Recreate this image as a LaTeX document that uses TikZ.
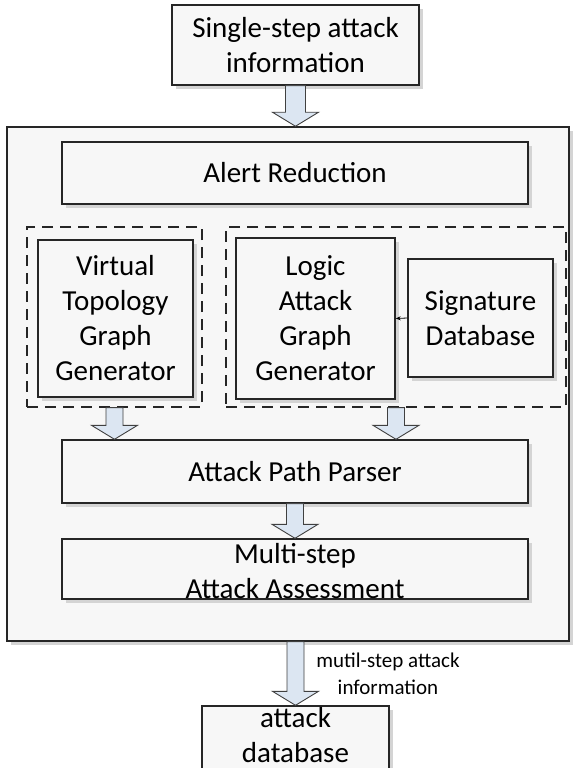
\documentclass[tikz,border=0pt]{standalone}
\usepackage{fontspec}
\setmainfont{Carlito}
\usetikzlibrary{shadows,calc,arrows.meta}
\definecolor{boxfill}{HTML}{F7F7F7}
\definecolor{arrfill}{HTML}{DCE6F2}
\definecolor{shadowc}{HTML}{D4D4D4}
\tikzset{
  box/.style={draw=black!85, line width=1.4pt, fill=boxfill, inner sep=0pt, align=center,
    font=\fontsize{29}{35}\selectfont,
    drop shadow={shadow xshift=4pt, shadow yshift=-4pt, fill=shadowc, opacity=1}},
  dbox/.style={draw=black!85, line width=1.3pt, dash pattern=on 11pt off 7pt, inner sep=0pt},
  txt/.style={inner sep=0pt, align=center, font=\fontsize{29}{35}\selectfont},
  lbl/.style={inner sep=0pt, align=center, font=\fontsize{21}{27}\selectfont},
  arrowst/.style={fill=arrfill, draw=black!75, line width=0.9pt, line join=miter},
}
\newcommand\blockarr[3][8.5pt]{%
  \filldraw[arrowst] let \p1=(#2), \p2=(#3) in
  (\x1-#1,\y1) -- (\x1+#1,\y1) -- (\x1+#1,\y2+14pt) -- (\x1+23pt,\y2+14pt) --
  (\x1,\y2) -- (\x1-23pt,\y2+14pt) -- (\x1-#1,\y2+14pt) -- cycle;}
\begin{document}
\begin{tikzpicture}[x=1pt,y=-1pt]
\useasboundingbox (0,0) rectangle (574,768);
\clip (0,0) rectangle (574,768);
% top input box
\node[box, minimum width=247pt, minimum height=80pt] (top) at (295.5,45) {Single-step attack\\information};
% outer frame
\node[box, minimum width=562pt, minimum height=514pt, line width=1.5pt] (outer) at (288,384) {};
\blockarr[10pt]{top.south}{outer.north}
% inner modules
\node[box, minimum width=466pt, minimum height=62pt] (alert) at (295,173) {Alert Reduction};
\node[dbox, minimum width=175pt, minimum height=180pt] (ld) at (114.5,317) {};
\node[dbox, minimum width=340pt, minimum height=180pt] (rd) at (396,317) {};
\node[box, minimum width=155pt, minimum height=157pt] (vt) at (115.5,318.5) {Virtual\\Topology\\Graph\\Generator};
\node[box, minimum width=159pt, minimum height=161pt] (lg) at (315.5,318.5) {Logic\\Attack\\Graph\\Generator};
\node[box, minimum width=145pt, minimum height=118pt] (sig) at (480.5,318) {Signature\\Database};
\draw[line width=0.8pt, -{Stealth[length=5pt,width=4pt]}] (sig.west) -- (lg.east);
\node[box, minimum width=466pt, minimum height=63pt] (app) at (295,471.5) {Attack Path Parser};
\blockarr{ld.south}{app.north}
\blockarr{rd.south}{app.north}
\node[box, minimum width=466pt, minimum height=60pt] (ms) at (295,569) {};
\node[txt] (mstext) at (295,571) {Multi-step\\Attack Assessment};
\blockarr{app.south}{ms.north}
% output
\node[box, minimum width=187pt, minimum height=100pt] (db) at (295.5,756) {};
\node[txt] (dbtext) at (295.5,735) {attack\\database};
\blockarr{db.north |- outer.south}{db.north}
\node[lbl] (lab) at (388,674) {mutil-step attack\\information};
\end{tikzpicture}
\end{document}
